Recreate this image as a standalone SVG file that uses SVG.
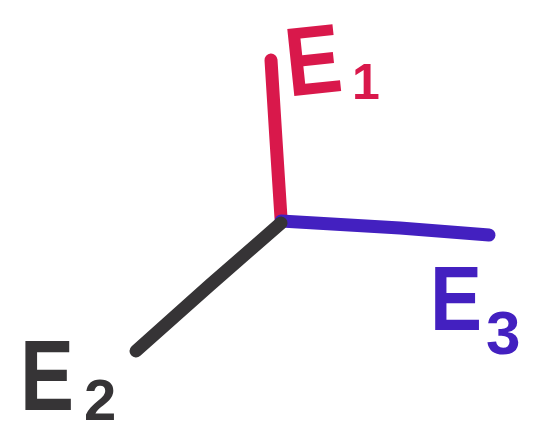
<svg xmlns="http://www.w3.org/2000/svg" width="539" height="440" viewBox="0 0 539 440">
<style>
.ax{fill:none;stroke-width:13;stroke-linecap:round;stroke-linejoin:round}
.lbl{font-family:"Liberation Sans",Arial,sans-serif;font-weight:bold}
.r{stroke:#d9184b}.b{stroke:#4320c0}.k{stroke:#363436}
</style>
<rect width="539" height="440" fill="#fff"/>
<g id="connectors">
<path class="ax r" d="M271,60 L276,140 L281,218"/>
<path class="ax b" d="M281,221 L400,228 L489,235"/>
<path class="ax k" d="M281,223 L210,285 L136,351"/>
</g>
<g id="E1" class="lbl" fill="#d9184b">
<text x="285" y="94" font-size="98" textLength="56" lengthAdjust="spacingAndGlyphs" transform="rotate(-6 310 60)">E</text>
<text x="352" y="99" font-size="50">1</text>
</g>
<g id="E3" class="lbl" fill="#4320c0">
<text x="430" y="330" font-size="90" textLength="52" lengthAdjust="spacingAndGlyphs">E</text>
<text x="486" y="354" font-size="62">3</text>
</g>
<g id="E2" class="lbl" fill="#363436">
<text x="20" y="410" font-size="100" textLength="54" lengthAdjust="spacingAndGlyphs">E</text>
<text x="84" y="420" font-size="58">2</text>
</g>
</svg>
